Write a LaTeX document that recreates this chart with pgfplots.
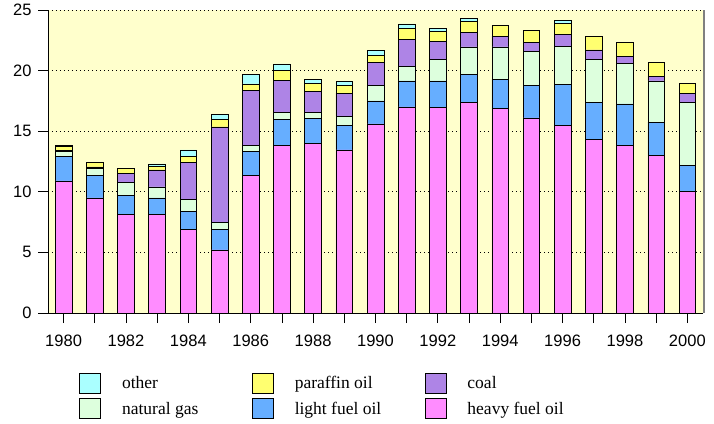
\documentclass[border=0pt]{standalone}
\usepackage{fontspec}
\setmainfont{Liberation Serif}
\setsansfont{Liberation Sans}
\usepackage{pgfplots}
\pgfplotsset{compat=1.18}
\usepackage{pgfplotstable}

\definecolor{bgyellow}{HTML}{FFFFCC}
\definecolor{cheavy}{HTML}{FF8CFF}
\definecolor{clight}{HTML}{66AEFF}
\definecolor{cgas}{HTML}{DDFFDD}
\definecolor{ccoal}{HTML}{AE84E6}
\definecolor{cpara}{HTML}{FFFF70}
\definecolor{cother}{HTML}{AAFFFF}

% energy use by fuel, 1980-2000
\pgfplotstableread{
year heavy light gas  coal paraffin other
1980 10.9  2.05  0.35 0.1  0.35 0.05
1981 9.5   1.85  0.55 0.15 0.35 0.05
1982 8.1   1.6   1.1  0.75 0.35 0.05
1983 8.1   1.4   0.9  1.4  0.3  0.2
1984 6.9   1.5   0.95 3.05 0.5  0.55
1985 5.2   1.7   0.6  7.85 0.6  0.45
1986 11.35 1.95  0.55 4.5  0.55 0.75
1987 13.8  2.2   0.55 2.65 0.8  0.55
1988 14.0  2.05  0.5  1.75 0.65 0.35
1989 13.45 2.0   0.8  1.9  0.6  0.35
1990 15.6  1.9   1.25 1.9  0.6  0.4
1991 17.0  2.15  1.2  2.25 0.85 0.4
1992 16.95 2.2   1.8  1.45 0.8  0.3
1993 17.35 2.35  2.25 1.2  0.9  0.25
1994 16.9  2.4   2.65 0.9  0.85 0
1995 16.1  2.65  2.8  0.8  0.95 0
1996 15.5  3.35  3.15 0.95 0.95 0.25
1997 14.35 3.05  3.5  0.8  1.15 0
1998 13.85 3.4   3.35 0.55 1.15 0
1999 13.0  2.75  3.4  0.4  1.1  0.05
2000 10.0  2.15  5.2  0.8  0.8  0
}\fueldata

\pgfplotsset{
  sw/.style={legend image code/.code={\draw[##1] (0pt,-10pt) rectangle (21pt,10pt);}},
}

\begin{document}
\begin{tikzpicture}
\path (0pt,0pt) rectangle (714pt,423pt);
\begin{axis}[
    at={(48pt,110pt)}, anchor=south west,
    scale only axis, width=655pt, height=303pt,
    ybar stacked, bar width=16.7pt,
    xmin=1979.5, xmax=2000.5, ymin=0, ymax=25,
    axis background/.style={fill=bgyellow},
    axis x line*=bottom, axis y line*=left,
    axis line style={black, line width=0.8pt},
    xtick={1980,...,2000},
    xticklabels={1980,,1982,,1984,,1986,,1988,,1990,,1992,,1994,,1996,,1998,,2000},
    tick align=outside, major tick length=10pt,
    tick style={black, line width=0.8pt},
    ytick={0,5,...,25},
    ymajorgrids, major grid style={black, line width=0.8pt, dash pattern=on 1pt off 3pt},
    /pgf/number format/assume math mode=true,
    tick label style={font=\sffamily\fontsize{16.5}{16.5}\selectfont},
    xticklabel style={yshift=-8pt},
    yticklabel style={xshift=-3pt},
    every axis plot/.append style={draw=black, line width=0.7pt},
    reverse legend,
    legend columns=3,
    legend style={draw=none, fill=none, at={(0.043,-0.19)}, anchor=north west,
      font=\fontsize{17.5}{17.5}\selectfont, row sep=5pt,
      /tikz/every odd column/.append style={column sep=19pt}},
    legend cell align=left,
]
\addplot[fill=cheavy, sw] table[x=year, y=heavy] {\fueldata};
\addlegendentry{\makebox[128pt][l]{heavy fuel oil}}
\addplot[fill=clight, sw] table[x=year, y=light] {\fueldata};
\addlegendentry{\makebox[128pt][l]{light fuel oil}}
\addplot[fill=cgas, sw] table[x=year, y=gas] {\fueldata};
\addlegendentry{\makebox[128pt][l]{natural gas}}
\addplot[fill=ccoal, sw] table[x=year, y=coal] {\fueldata};
\addlegendentry{\makebox[128pt][l]{coal}}
\addplot[fill=cpara, sw] table[x=year, y=paraffin] {\fueldata};
\addlegendentry{\makebox[128pt][l]{paraffin oil}}
\addplot[fill=cother, sw] table[x=year, y=other] {\fueldata};
\addlegendentry{\makebox[128pt][l]{other}}
\end{axis}
\draw[gray, line width=1.6pt] (704pt,110pt) -- (704pt,413pt);
\end{tikzpicture}
\end{document}
